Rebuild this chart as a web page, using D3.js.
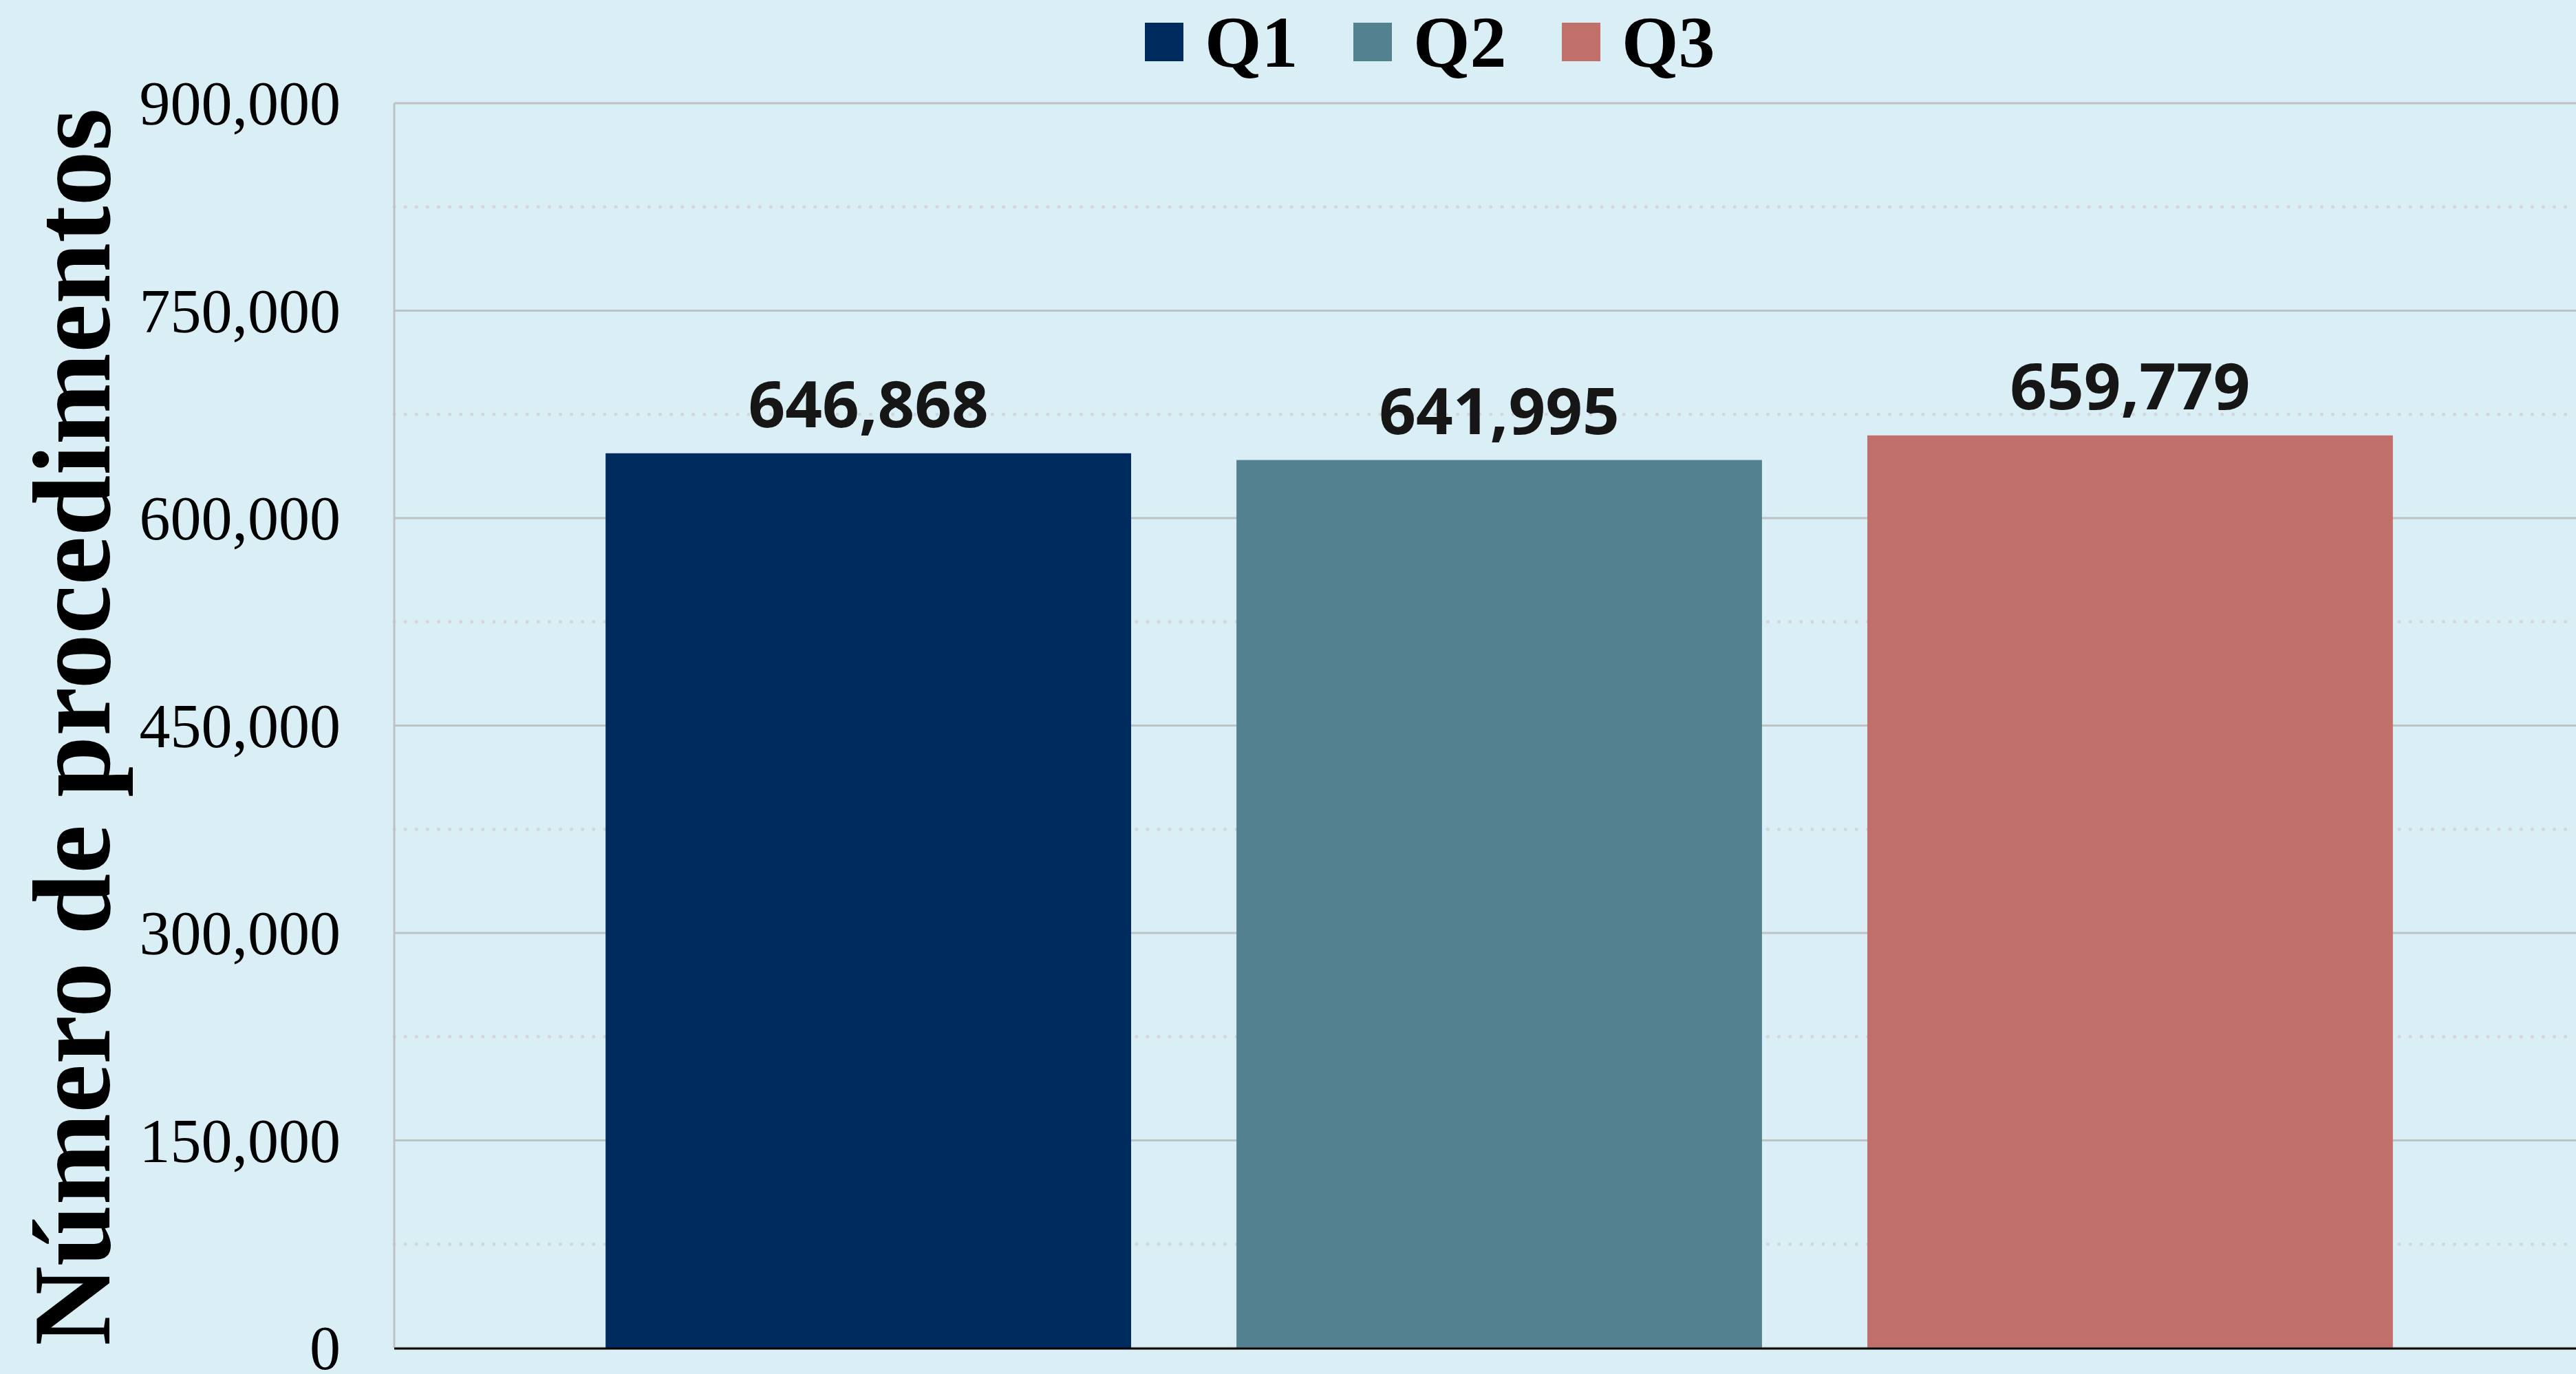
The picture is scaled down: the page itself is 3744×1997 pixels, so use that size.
<!DOCTYPE html>
<html>
<head>
<meta charset="utf-8">
<script src="https://cdn.jsdelivr.net/npm/d3@7"></script>
<style>
  body { margin: 0; background: #DAEEF5; }
  svg { display: block; }
</style>
</head>
<body>
<div id="chart"></div>
<script>
let width = 3744
let height = 1997

// -- data
const quarters = ['Q1', 'Q2', 'Q3']
const procedures = [646868, 641995, 659779]
const barColors = ['#002B5F', '#548190', '#C16F6B']
const yTicks = [0, 150000, 300000, 450000, 600000, 750000, 900000]
const yMinorTicks = [75000, 225000, 375000, 525000, 675000, 825000]
const yTitle = 'Número de procedimentos'

let plotLeft = 573, plotTop = 150, plotBottom = 1959

let svg = d3.select('#chart')
            .append('svg')
            .attr('width', width)
            .attr('height', height)

svg.append('rect')
   .attr('width', width)
   .attr('height', height)
   .attr('fill', '#DAEEF5')

let yScale = d3.scaleLinear().domain([0, 900000]).range([plotBottom, plotTop])
let xScale = d3.scaleBand()
               .domain(quarters)
               .range([plotLeft, 3785])
               .paddingInner(0.167)
               .paddingOuter(0.335)

// -- minor dotted gridlines
svg.append('g')
   .selectAll('line')
   .data(yMinorTicks)
   .enter()
   .append('line')
   .attr('x1', plotLeft)
   .attr('x2', width)
   .attr('y1', d => yScale(d))
   .attr('y2', d => yScale(d))
   .attr('stroke', '#D3D7D9')
   .attr('stroke-width', 5)
   .attr('stroke-linecap', 'round')
   .attr('stroke-dasharray', '0.1,16')

// -- major gridlines
svg.append('g')
   .selectAll('line')
   .data(yTicks)
   .enter()
   .append('line')
   .attr('x1', plotLeft)
   .attr('x2', width)
   .attr('y1', d => yScale(d))
   .attr('y2', d => yScale(d))
   .attr('stroke', '#BDC2C4')
   .attr('stroke-width', 3)

// -- left axis line
svg.append('line')
   .attr('x1', plotLeft).attr('x2', plotLeft)
   .attr('y1', plotTop).attr('y2', plotBottom)
   .attr('stroke', '#BDC2C4')
   .attr('stroke-width', 3)

// -- y axis labels
let yAxis = d3.axisLeft(yScale)
              .tickValues(yTicks)
              .tickSize(0)
              .tickPadding(78)
              .tickFormat(d3.format(','))

svg.append('g')
   .attr('transform', `translate(${plotLeft}, 0)`)
   .call(yAxis)
   .call(g => g.select('.domain').remove())
   .selectAll('text')
   .attr('font-family', '"Liberation Serif", "Times New Roman", serif')
   .attr('font-size', 90)
   .attr('fill', '#000')
   .attr('dy', '0.34em')

// -- bars
svg.append('g')
   .selectAll('rect')
   .data(procedures)
   .enter()
   .append('rect')
   .attr('x', (d, i) => xScale(quarters[i]))
   .attr('y', d => yScale(d))
   .attr('width', xScale.bandwidth())
   .attr('height', d => plotBottom - yScale(d))
   .attr('fill', (d, i) => barColors[i])

// -- baseline
svg.append('line')
   .attr('x1', plotLeft).attr('x2', width)
   .attr('y1', plotBottom + 1).attr('y2', plotBottom + 1)
   .attr('stroke', '#000')
   .attr('stroke-width', 3)

// -- value labels
svg.append('g')
   .selectAll('text')
   .data(procedures)
   .enter()
   .append('text')
   .attr('x', (d, i) => xScale(quarters[i]) + xScale.bandwidth() / 2)
   .attr('y', d => yScale(d) - 38)
   .attr('text-anchor', 'middle')
   .attr('font-family', '"Open Sans", sans-serif')
   .attr('font-weight', 'bold')
   .attr('font-size', 94)
   .attr('fill', '#161616')
   .text(d => d3.format(',')(d))

// -- y title
svg.append('text')
   .attr('transform', `translate(159, ${(plotTop + plotBottom) / 2 + 2}) rotate(-90)`)
   .attr('text-anchor', 'middle')
   .attr('font-family', '"Liberation Serif", "Times New Roman", serif')
   .attr('font-weight', 'bold')
   .attr('font-size', 160)
   .attr('fill', '#000')
   .text(yTitle)

// -- legend
let legend = svg.append('g')
                .selectAll('g')
                .data(quarters)
                .enter()
                .append('g')
                .attr('transform', (d, i) => `translate(${1664 + i * 303}, 0)`)

legend.append('rect')
      .attr('x', 0)
      .attr('y', 33)
      .attr('width', 56)
      .attr('height', 56)
      .attr('fill', (d, i) => barColors[i])

legend.append('text')
      .attr('x', 87)
      .attr('y', 97)
      .attr('font-family', '"Liberation Serif", "Times New Roman", serif')
      .attr('font-weight', 'bold')
      .attr('font-size', 106)
      .attr('fill', '#000')
      .text(d => d)
</script>
</body>
</html>
